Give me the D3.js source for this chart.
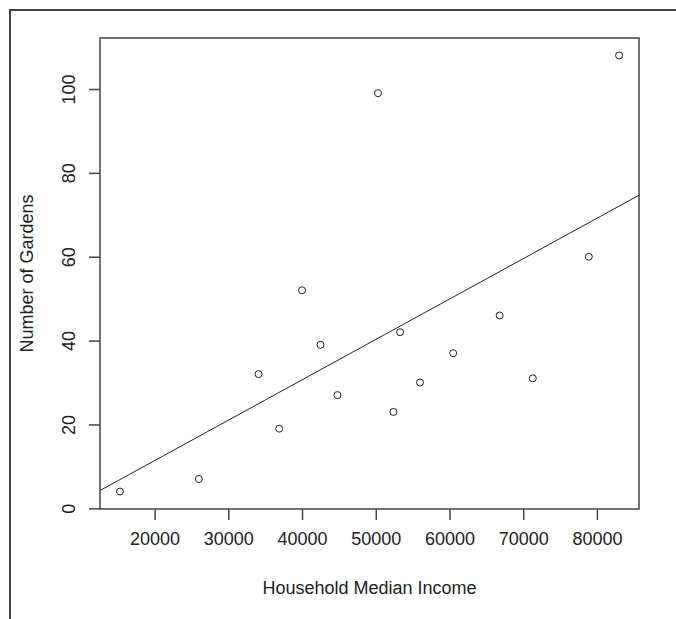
<!DOCTYPE html>
<html>
<head>
<meta charset="utf-8">
<script src="https://cdn.jsdelivr.net/npm/d3@7"></script>
<style>
  body { margin: 0; background: #fff; }
  text { font-family: "Liberation Sans", Arial, sans-serif; fill: #222; }
</style>
</head>
<body>
<div id="chart"></div>
<script>
// household median income vs number of gardens
var income  = [15300, 26000, 34100, 36900, 40000, 42500, 44800, 50300,
               52400, 53300, 56000, 60500, 66800, 71300, 78900, 83000];
var gardens = [4, 7, 32, 19, 52, 39, 27, 99,
               23, 42, 30, 37, 46, 31, 60, 108];
var xTicks = [20000, 30000, 40000, 50000, 60000, 70000, 80000];
var yTicks = [0, 20, 40, 60, 80, 100];

var width = 676, height = 619;
var box = {left: 100, top: 38, right: 639, bottom: 509};

var svg = d3.select("#chart").append("svg")
    .attr("width", width)
    .attr("height", height);

// outer frame (top and left edges only)
svg.append("path")
    .attr("d", "M10," + height + "V10H" + width)
    .attr("fill", "none")
    .attr("stroke", "#444")
    .attr("stroke-width", 2);

// R style range: extend data range by 4% each side
function pad(ext) {
    var d = (ext[1] - ext[0]) * 0.04;
    return [ext[0] - d, ext[1] + d];
}

var x = d3.scaleLinear()
    .domain(pad(d3.extent(income)))
    .range([box.left, box.right]);

var y = d3.scaleLinear()
    .domain(pad(d3.extent(gardens)))
    .range([box.bottom, box.top]);

// X AXIS
var xAxis = d3.axisBottom(x)
    .tickValues(xTicks)
    .tickFormat(d3.format("d"))
    .tickSize(11)
    .tickPadding(12);

var gx = svg.append("g")
    .attr("transform", "translate(0," + box.bottom + ")")
    .call(xAxis);
gx.select(".domain").remove();
gx.selectAll("line").attr("stroke", "#444").attr("stroke-width", 1.5);
gx.selectAll("text")
    .attr("font-size", 18)
    .attr("fill", "#222")
    .attr("font-family", "Liberation Sans, Arial, sans-serif");

// Y AXIS
var yAxis = d3.axisLeft(y)
    .tickValues(yTicks)
    .tickSize(11);

var gy = svg.append("g")
    .attr("transform", "translate(" + box.left + ",0)")
    .call(yAxis);
gy.select(".domain").remove();
gy.selectAll("line").attr("stroke", "#444").attr("stroke-width", 1.5);
gy.selectAll("text")
    .attr("font-size", 18)
    .attr("fill", "#222")
    .attr("font-family", "Liberation Sans, Arial, sans-serif")
    .attr("x", 0)
    .attr("dy", 0)
    .attr("text-anchor", "middle")
    .attr("dominant-baseline", "central")
    .attr("transform", "translate(-31,0) rotate(-90)");

// plot box
svg.append("rect")
    .attr("x", box.left)
    .attr("y", box.top)
    .attr("width", box.right - box.left)
    .attr("height", box.bottom - box.top)
    .attr("fill", "none")
    .attr("stroke", "#444")
    .attr("stroke-width", 1.5);

// least squares fit, drawn across the plot like abline()
var mx = d3.mean(income), my = d3.mean(gardens);
var sxy = 0, sxx = 0;
for (var i = 0; i < income.length; i++) {
    sxy += (income[i] - mx) * (gardens[i] - my);
    sxx += (income[i] - mx) * (income[i] - mx);
}
var slope = sxy / sxx;
var intercept = my - slope * mx;
var xd = x.domain();

svg.append("line")
    .attr("x1", x(xd[0]))
    .attr("y1", y(intercept + slope * xd[0]))
    .attr("x2", x(xd[1]))
    .attr("y2", y(intercept + slope * xd[1]))
    .attr("stroke", "#222")
    .attr("stroke-width", 1);

// points
svg.selectAll("circle")
    .data(income)
    .enter()
    .append("circle")
    .attr("cx", function(d) { return x(d); })
    .attr("cy", function(d, i) { return y(gardens[i]); })
    .attr("r", 3.5)
    .attr("fill", "none")
    .attr("stroke", "#222")
    .attr("stroke-width", 1);

// axis titles
svg.append("text")
    .attr("x", (box.left + box.right) / 2)
    .attr("y", 588)
    .attr("text-anchor", "middle")
    .attr("dominant-baseline", "central")
    .attr("font-size", 18)
    .text("Household Median Income");

svg.append("text")
    .attr("transform", "translate(27," + (box.top + box.bottom) / 2 + ") rotate(-90)")
    .attr("text-anchor", "middle")
    .attr("dominant-baseline", "central")
    .attr("font-size", 18)
    .text("Number of Gardens");
</script>
</body>
</html>
